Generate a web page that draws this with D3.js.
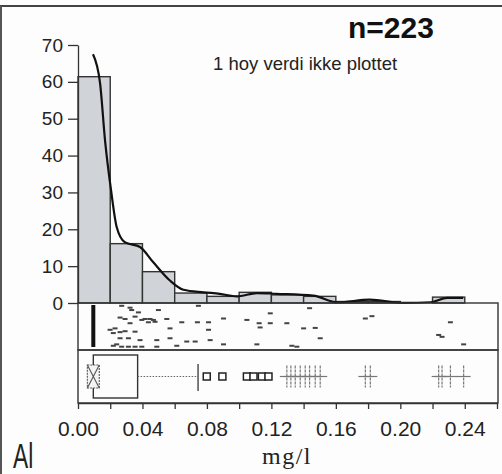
<!DOCTYPE html>
<html lang="no">
<head>
<meta charset="UTF-8">
<title>Al</title>
<style>
  body { margin:0; background:#fff; }
  svg { display:block; font-family:"Liberation Sans", Arial, sans-serif; }
</style>
</head>
<body>
<div class="chart"></div>
<script src="https://d3js.org/d3.v7.min.js"></script>
<script>
// histogram: bins of 0.02 mg/l, percent of samples
const binStart = [0.00, 0.02, 0.04, 0.06, 0.08, 0.10, 0.12, 0.14, 0.16, 0.18, 0.20, 0.22];
const binPct   = [61.4, 16.1, 8.5, 2.7, 1.8, 2.9, 2.2, 1.8, 0.4, 0.4, 0, 1.6];

// density curve
const densX = [0.0093, 0.0137, 0.0168, 0.0205, 0.024, 0.029, 0.0385, 0.0466, 0.057, 0.0654, 0.078,
               0.088, 0.0986, 0.111, 0.123, 0.146, 0.161, 0.181, 0.202, 0.219, 0.229, 0.239];
const densY = [67.5, 59.6, 44, 30.6, 20.6, 16.5, 15.2, 11.1, 6.1, 3.6, 2.9,
               2.5, 1.8, 2.7, 2.5, 2.0, 0.2, 0.9, 0.05, 0.2, 1.4, 1.4];

// strip plot values and their vertical jitter (0 = top, 1 = bottom)
const stripVal = [0.0271, 0.0323, 0.0333, 0.0375, 0.0499, 0.0747, 0.0261, 0.0292, 0.0354, 0.0396,
                  0.0416, 0.0447, 0.0468, 0.0437, 0.0478, 0.0323, 0.0551, 0.0644, 0.0741, 0.0810,
                  0.0903, 0.1048, 0.1124, 0.1193, 0.1193, 0.0199, 0.0230, 0.0261, 0.0292, 0.0219,
                  0.0354, 0.0571, 0.0810, 0.1130, 0.0261, 0.0313, 0.0385, 0.0489, 0.0571, 0.0675,
                  0.0727, 0.0820, 0.0240, 0.0219, 0.0271, 0.0313, 0.0354, 0.0396, 0.0489, 0.0613,
                  0.0903, 0.1110, 0.1437, 0.1296, 0.1400, 0.1472, 0.1503, 0.1327, 0.1358, 0.1783,
                  0.1824, 0.2311, 0.2238, 0.2259, 0.2393];
const stripJit = [0.06, 0.10, 0.15, 0.20, 0.15, 0.06, 0.31, 0.34, 0.29, 0.36,
                  0.34, 0.34, 0.36, 0.41, 0.40, 0.43, 0.34, 0.41, 0.41, 0.41,
                  0.33, 0.36, 0.43, 0.43, 0.22, 0.57, 0.54, 0.62, 0.60, 0.64,
                  0.61, 0.54, 0.57, 0.52, 0.75, 0.75, 0.79, 0.79, 0.75, 0.82,
                  0.82, 0.79, 0.88, 0.91, 0.93, 0.93, 0.93, 0.93, 0.93, 0.91,
                  0.88, 0.88, 0.11, 0.43, 0.54, 0.53, 0.75, 0.91, 0.93, 0.33,
                  0.28, 0.41, 0.68, 0.72, 0.88];
const detLimit = 0.0095;   // many values piled up here

// box plot
const boxQ1 = 0.0095, boxQ3 = 0.037, whiskerHi = 0.0745;
const notchLo = 0.0058, notchHi = 0.0132;
const outliers = [0.0799, 0.0896, 0.1048, 0.1089, 0.1141, 0.1182];
const farOut = [0.1296, 0.1321, 0.1348, 0.1379, 0.141, 0.1437, 0.1472, 0.1503,
                0.1783, 0.1814, 0.2238, 0.2259, 0.2311, 0.2393];

const yTicks = [0, 10, 20, 30, 40, 50, 60, 70];
const xTicks = [0, 0.02, 0.04, 0.06, 0.08, 0.10, 0.12, 0.14, 0.16, 0.18, 0.20, 0.22, 0.24, 0.26];

const width = 502, height = 474;
const left = 78, right = 497;
const histBottom = 303, histTop = 45;
const stripBottom = 350, axisY = 403;

const svg = d3.select('.chart').append('svg')
    .attr('width', width).attr('height', height);

svg.append('rect').attr('width', width).attr('height', height).attr('fill', '#fdfdfd');

// scanned page edges
svg.append('line').attr('x1', 0).attr('x2', width).attr('y1', 6).attr('y2', 6)
    .attr('stroke', '#444').attr('stroke-width', 2);
svg.append('line').attr('x1', 1).attr('x2', 1).attr('y1', 6).attr('y2', height)
    .attr('stroke', '#555').attr('stroke-width', 2);

const x = d3.scaleLinear().domain([0, 0.26]).range([left, right]);
const y = d3.scaleLinear().domain([0, 70]).range([histBottom, histTop]);

// histogram bars
svg.append('g').selectAll('rect')
    .data(binStart)
    .join('rect')
    .attr('x', d => x(d))
    .attr('width', d => x(d + 0.02) - x(d))
    .attr('y', (d, i) => y(binPct[i]))
    .attr('height', (d, i) => y(0) - y(binPct[i]))
    .attr('fill', '#d0d3d7')
    .attr('stroke', '#333')
    .attr('stroke-width', 1.4);

// density curve
const dens = d3.line()
    .x((d, i) => x(d))
    .y((d, i) => y(densY[i]))
    .curve(d3.curveMonotoneX);
svg.append('path')
    .attr('d', dens(densX))
    .attr('fill', 'none')
    .attr('stroke', '#111')
    .attr('stroke-width', 2.2);

// y axis
const yAxis = d3.axisLeft(y).tickValues(yTicks).tickSize(10).tickSizeOuter(0).tickPadding(5);
const yg = svg.append('g').attr('transform', `translate(${left},0)`).call(yAxis);
yg.selectAll('text').attr('font-size', 19).attr('fill', '#222')
    .attr('font-family', '"Liberation Sans", Arial, sans-serif');
yg.selectAll('line, path').attr('stroke', '#333').attr('stroke-width', 1.3);

// panels for strip and box plot
svg.append('rect').attr('x', left).attr('y', histBottom)
    .attr('width', right + 1 - left).attr('height', stripBottom - histBottom)
    .attr('fill', 'none').attr('stroke', '#333').attr('stroke-width', 1.4);
svg.append('rect').attr('x', left).attr('y', stripBottom)
    .attr('width', right + 1 - left).attr('height', axisY - stripBottom)
    .attr('fill', 'none').attr('stroke', '#333').attr('stroke-width', 1.4);

// strip plot
const stripTop = 303, stripH = 47;
svg.append('rect')
    .attr('x', x(detLimit) - 2).attr('width', 4)
    .attr('y', stripTop + 2).attr('height', stripH - 5)
    .attr('fill', '#111');
svg.append('g').selectAll('rect')
    .data(stripVal)
    .join('rect')
    .attr('x', d => x(d) - 2.5)
    .attr('y', (d, i) => stripTop + stripJit[i] * stripH - 1)
    .attr('width', 5).attr('height', 2)
    .attr('fill', '#444');

// box plot
const by = 376.5;
const bp = svg.append('g');
bp.append('rect')
    .attr('x', x(boxQ1)).attr('width', x(boxQ3) - x(boxQ1))
    .attr('y', 355).attr('height', 43)
    .attr('fill', 'none').attr('stroke', '#333').attr('stroke-width', 1.4);
bp.append('line')
    .attr('x1', x(boxQ3)).attr('x2', x(whiskerHi)).attr('y1', by).attr('y2', by)
    .attr('stroke', '#666').attr('stroke-width', 1.2).attr('stroke-dasharray', '1.5,1.5');
bp.append('line')
    .attr('x1', x(whiskerHi)).attr('x2', x(whiskerHi)).attr('y1', 364).attr('y2', 391)
    .attr('stroke', '#444').attr('stroke-width', 1.4);
// notch marker
const nx0 = x(notchLo), nx1 = x(notchHi);
bp.append('rect').attr('x', nx0).attr('y', 365).attr('width', nx1 - nx0).attr('height', 23)
    .attr('fill', '#f4f4f4').attr('stroke', '#555').attr('stroke-width', 1.1)
    .attr('stroke-dasharray', '2,1');
bp.append('path')
    .attr('d', `M${nx0},365L${nx1},388M${nx1},365L${nx0},388`)
    .attr('stroke', '#555').attr('stroke-width', 1.1).attr('fill', 'none');

bp.append('g').selectAll('rect')
    .data(outliers)
    .join('rect')
    .attr('x', d => x(d) - 3.5).attr('y', by - 3.5)
    .attr('width', 7).attr('height', 7)
    .attr('fill', '#fff').attr('stroke', '#222').attr('stroke-width', 1.5);

const plus = bp.append('g').selectAll('g')
    .data(farOut)
    .join('g')
    .attr('stroke', '#777').attr('stroke-width', 1.2);
plus.append('line')
    .attr('x1', d => x(d) - 7).attr('x2', d => x(d) + 7)
    .attr('y1', by).attr('y2', by);
plus.append('line')
    .attr('x1', d => x(d)).attr('x2', d => x(d))
    .attr('y1', by - 11).attr('y2', by + 11)
    .attr('stroke-dasharray', '3,1');

// x axis
const xAxis = d3.axisBottom(x).tickValues(xTicks).tickSize(6).tickSizeOuter(0).tickPadding(12)
    .tickFormat((d, i) => (i % 2 === 0 && d < 0.25) ? d3.format('.2f')(d) : '');
const xg = svg.append('g').attr('transform', `translate(0,${axisY})`).call(xAxis);
xg.selectAll('text').attr('font-size', 21).attr('fill', '#222')
    .attr('font-family', '"Liberation Sans", Arial, sans-serif');
xg.selectAll('line, path').attr('stroke', '#333').attr('stroke-width', 1.3);

// labels
svg.append('text').attr('x', 287).attr('y', 464).attr('text-anchor', 'middle')
    .attr('font-family', '"Liberation Serif", "Times New Roman", serif')
    .attr('font-size', 24).attr('letter-spacing', 1.5).attr('fill', '#222')
    .text('mg/l');
svg.append('text').attr('transform', 'translate(13,468) scale(0.65,1)')
    .attr('font-size', 35).attr('fill', '#222').text('Al');
svg.append('text').attr('x', 348).attr('y', 38)
    .attr('font-size', 30).attr('font-weight', 'bold').attr('fill', '#111')
    .text('n=223');
svg.append('text').attr('x', 213).attr('y', 70)
    .attr('font-size', 18.5).attr('fill', '#222')
    .text('1 hoy verdi ikke plottet');
</script>
</body>
</html>
